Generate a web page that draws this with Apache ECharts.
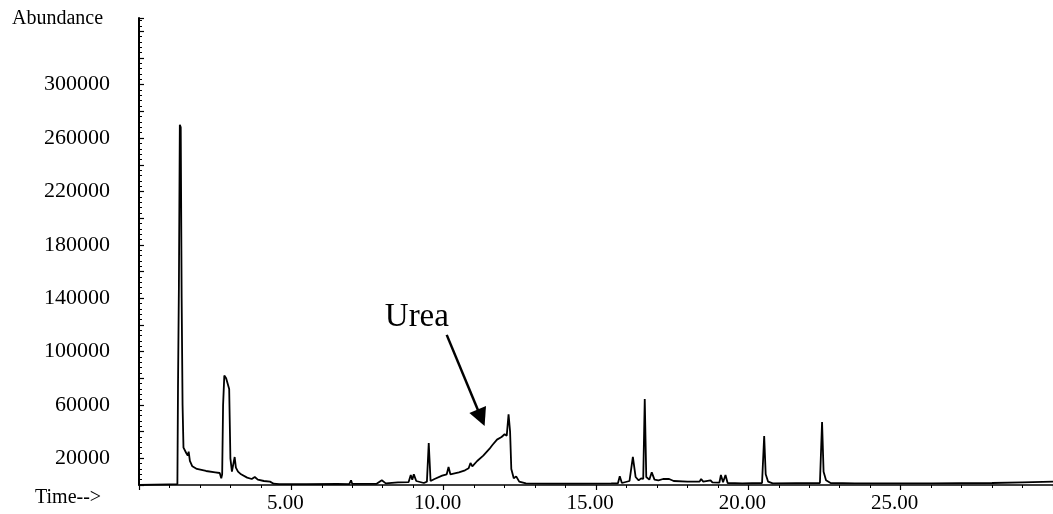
<!DOCTYPE html>
<html>
<head>
<meta charset="utf-8">
<script src="https://cdn.jsdelivr.net/npm/echarts@6/dist/echarts.min.js"></script>
<style>
  html, body { margin: 0; padding: 0; background: #ffffff; }
  #chart { width: 1053px; height: 514px; }
</style>
</head>
<body>
<div id="chart"></div>
<script>
// Total ion chromatogram: retention time (min) and abundance
const retentionTime = [
  0.00, 0.50, 1.00, 1.26, 1.28, 1.31, 1.34, 1.37, 1.40, 1.43, 1.46, 1.55, 1.60, 1.63, 1.67,
  1.75, 1.90, 2.20, 2.50, 2.65, 2.70, 2.73, 2.76, 2.80, 2.86, 2.92, 2.96, 3.00, 3.05, 3.10,
  3.14, 3.18, 3.25, 3.35, 3.55, 3.70, 3.80, 3.90, 4.10, 4.30, 4.42, 4.60, 5.50, 6.50, 6.90,
  6.96, 7.00, 7.80, 7.97, 8.10, 8.50, 8.85, 8.92, 8.97, 9.02, 9.10, 9.35, 9.45, 9.51, 9.57,
  9.70, 9.95, 10.10, 10.16, 10.22, 10.50, 10.70, 10.82, 10.88, 10.94, 11.10, 11.30, 11.50, 11.60, 11.75,
  11.90, 12.00, 12.07, 12.13, 12.18, 12.22, 12.30, 12.38, 12.48, 12.70, 13.50, 14.50, 15.50, 15.72, 15.78,
  15.85, 16.10, 16.21, 16.30, 16.40, 16.48, 16.55, 16.60, 16.65, 16.75, 16.83, 16.92, 17.05, 17.20, 17.40,
  17.55, 18.00, 18.40, 18.45, 18.52, 18.76, 18.82, 19.05, 19.10, 19.17, 19.25, 19.32, 19.80, 20.45, 20.52,
  20.57, 20.65, 20.80, 22.35, 22.42, 22.47, 22.55, 22.70, 23.50, 26.00, 28.00, 29.00, 30.00
];
const abundance = [
  0, 300, 500, 600, 73000, 150000, 270000, 268000, 140000, 60000, 28000, 24000, 22000, 25000, 18000,
  14000, 12000, 10500, 9500, 9000, 5000, 8000, 60000, 82000, 80000, 81000, 72000, 20000, 10000, 11000,
  21000, 13000, 10000, 8000, 5500, 4500, 6000, 4000, 3000, 2500, 1000, 700, 600, 800, 700,
  3500, 800, 900, 3500, 1200, 2000, 2200, 7500, 4000, 8000, 3000, 1500, 2500, 31500, 3000,
  4500, 7000, 8000, 13500, 8000, 9500, 11000, 12500, 16500, 14000, 18000, 22000, 27000, 30000, 34000,
  36000, 38000, 37000, 53000, 40000, 12000, 5000, 6500, 2500, 1200, 1000, 1000, 1200, 1300, 6500,
  1500, 3000, 21000, 6000, 3500, 5000, 4500, 64500, 6000, 4000, 9500, 4000, 3500, 4500, 4500,
  3000, 2500, 2500, 4500, 2500, 3500, 2000, 1800, 7500, 2000, 7500, 1500, 1200, 1500, 36750,
  8000, 2500, 1200, 1500, 47250, 10000, 3500, 1500, 1200, 1200, 1500, 2000, 2500
];

const yTickLabels = [20000, 60000, 100000, 140000, 180000, 220000, 260000, 300000];
const xTickLabels = [5, 10, 15, 20, 25];

// Annotation for the urea hump: label anchor and arrow (data units)
const ureaLabel = { text: 'Urea', time: 9.12, abundance: 126000 };
const ureaArrow = { from: [10.10, 112500], to: [11.23, 50400] };

const serif = "'Liberation Serif', 'Times New Roman', 'DejaVu Serif', serif";
const chart = echarts.init(document.getElementById('chart'), null, { renderer: 'canvas' });

chart.setOption({
  animation: false,
  backgroundColor: '#ffffff',
  grid: { left: 139, right: -4, top: 18, bottom: 29, containLabel: false },
  xAxis: {
    type: 'value',
    min: 0,
    max: 30,
    interval: 5,
    axisLine: { show: true, onZero: false, lineStyle: { color: '#000', width: 1.5 } },
    axisTick: { show: true, inside: false, length: 5, lineStyle: { color: '#000', width: 1.2 } },
    minorTick: { show: true, splitNumber: 5, length: 3, lineStyle: { color: '#000', width: 1 } },
    splitLine: { show: false },
    axisLabel: {
      color: '#000', fontFamily: serif, fontSize: 21, margin: 8,
      padding: [0, 12, 0, 0],
      showMinLabel: false, showMaxLabel: false,
      formatter: v => xTickLabels.includes(Math.round(v * 100) / 100) ? v.toFixed(2) : ''
    }
  },
  yAxis: {
    type: 'value',
    min: 0,
    max: 350000,
    interval: 20000,
    axisLine: { show: true, lineStyle: { color: '#000', width: 2 } },
    axisTick: { show: true, inside: true, length: 5, lineStyle: { color: '#000', width: 1.2 } },
    minorTick: { show: true, splitNumber: 5, length: 3, lineStyle: { color: '#000', width: 1 } },
    splitLine: { show: false },
    axisLabel: {
      color: '#000', fontFamily: serif, fontSize: 22, margin: 29,
      padding: [3, 0, 0, 0],
      formatter: v => yTickLabels.includes(v) ? String(v) : ''
    }
  },
  graphic: [
    { type: 'text', left: 12, top: 9, style: { text: 'Abundance', font: '20px ' + serif, fill: '#000' } },
    { type: 'text', left: 35, top: 488, style: { text: 'Time-->', font: '20px ' + serif, fill: '#000' } }
  ],
  series: [{
    type: 'line',
    data: retentionTime.map((t, i) => [t, abundance[i]]),
    showSymbol: false,
    symbol: 'none',
    lineStyle: { color: '#000', width: 1.8 },
    silent: true,
    markPoint: {
      silent: true,
      symbol: 'circle',
      symbolSize: 0,
      label: {
        show: true, position: 'inside', color: '#000',
        fontFamily: serif, fontSize: 33, formatter: ureaLabel.text
      },
      data: [{ coord: [ureaLabel.time, ureaLabel.abundance] }]
    },
    markLine: {
      silent: true,
      symbol: ['none', 'triangle'],
      symbolSize: 18,
      label: { show: false },
      lineStyle: { color: '#000', width: 2.5, type: 'solid' },
      emphasis: { disabled: true },
      data: [[{ coord: ureaArrow.from }, { coord: ureaArrow.to }]]
    }
  }]
});
</script>
</body>
</html>
